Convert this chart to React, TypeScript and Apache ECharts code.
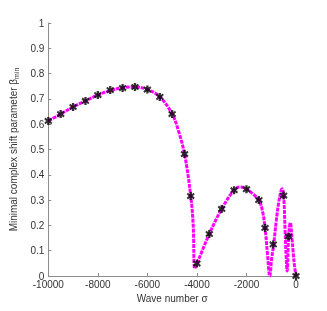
import React, { useEffect, useRef } from "react";
import * as echarts from "echarts";

// Continuous magenta curve (wave number, beta_min)
const curveX = [-10000, -9500, -9000, -8500, -8000, -7500, -7000, -6500, -6000, -5500, -5000, -4750, -4500, -4250, -4150, -4090, -4000, -3500, -3000, -2500, -2250, -2000, -1750, -1500, -1350, -1250, -1150, -1060, -980, -900, -800, -700, -600, -560, -500, -440, -400, -357, -300, -250, -226, -180, -120, -60, 0];
const curveY = [0.613, 0.64, 0.668, 0.692, 0.715, 0.733, 0.744, 0.747, 0.737, 0.708, 0.64, 0.575, 0.482, 0.316, 0.2, 0.03, 0.049, 0.166, 0.265, 0.339, 0.352, 0.343, 0.325, 0.3, 0.255, 0.19, 0.085, 0.0, 0.07, 0.125, 0.215, 0.29, 0.338, 0.345, 0.32, 0.18, 0.08, 0.02, 0.156, 0.205, 0.21, 0.17, 0.1, 0.04, 0.0];

// Sampled points (black markers)
const markX = [-10000, -9500, -9000, -8500, -8000, -7500, -7000, -6500, -6000, -5500, -5000, -4500, -4250, -4000, -3500, -3000, -2500, -2000, -1500, -1250, -920, -500, -300, 0];
const markY = [0.613, 0.64, 0.668, 0.692, 0.715, 0.735, 0.743, 0.747, 0.737, 0.708, 0.64, 0.482, 0.316, 0.049, 0.166, 0.265, 0.339, 0.343, 0.3, 0.19, 0.125, 0.318, 0.156, 0.0];

const yTicks = [0, 0.1, 0.2, 0.3, 0.4, 0.5, 0.6, 0.7, 0.8, 0.9, 1];

const asterisk =
  "path://M3.6,0 L6.4,0 L6.4,2.6 L8.4,0.8 L9.8,2.8 L7.6,5 L9.8,7.2 L8.4,9.2 L6.4,7.4 L6.4,10 L3.6,10 L3.6,7.4 L1.6,9.2 L0.2,7.2 L2.4,5 L0.2,2.8 L1.6,0.8 L3.6,2.6 Z";

export default function App() {
  const ref = useRef<HTMLDivElement>(null);
  useEffect(() => {
    if (!ref.current) return;
    const chart = echarts.init(ref.current, null, { renderer: "svg" });
    const font = "Liberation Sans, Arial, sans-serif";
    const txt = "#333333";
    const axisCol = "#8c8c8c";
    chart.setOption({
      animation: false,
      grid: { left: 42, right: 31, top: 23, bottom: 35 },
      xAxis: {
        type: "value",
        min: -10000,
        max: 0,
        interval: 2000,
        name: "Wave number σ",
        nameLocation: "middle",
        nameGap: 17,
        nameTextStyle: { fontFamily: font, fontSize: 10, color: txt },
        axisLine: { onZero: false, lineStyle: { color: axisCol } },
        axisTick: { inside: true, length: 3, lineStyle: { color: axisCol } },
        axisLabel: {
          fontFamily: font,
          fontSize: 10,
          color: txt,
          margin: 3,
          formatter: (v: number) => String(Math.round(v)),
        },
        splitLine: { show: false },
      },
      yAxis: {
        type: "value",
        min: 0,
        max: 1,
        interval: 0.1,
        name: "Minimal complex shift parameter β{sub|min}",
        nameLocation: "middle",
        nameGap: 24,
        nameTextStyle: {
          fontFamily: font,
          fontSize: 10,
          color: txt,
          rich: { sub: { fontFamily: font, fontSize: 7, color: txt, verticalAlign: "bottom", padding: [6, 0, 0, 0] } },
        },
        axisLine: { show: true, onZero: false, lineStyle: { color: axisCol } },
        axisTick: { show: true, inside: true, length: 3, lineStyle: { color: axisCol } },
        axisLabel: {
          fontFamily: font,
          fontSize: 10,
          color: txt,
          margin: 4,
          formatter: (v: number) => {
            const t = yTicks.find((k) => Math.abs(k - v) < 1e-6);
            return t === undefined ? "" : String(+t.toFixed(1));
          },
        },
        splitLine: { show: false },
      },
      series: [
        {
          type: "line",
          data: curveX.map((x, i) => [x, curveY[i]]),
          smooth: 0.4,
          showSymbol: false,
          lineStyle: { color: "#ff00ff", width: 3, type: [4, 1] },
          z: 2,
        },
        {
          type: "scatter",
          data: markX.map((x, i) => [x, markY[i]]),
          symbol: asterisk,
          symbolSize: 8,
          itemStyle: { color: "#000000" },
          z: 3,
        },
      ],
    });
    return () => chart.dispose();
  }, []);
  return (
    <div
      ref={ref}
      style={{ position: "fixed", left: 0, top: 0, width: 327, height: 311 }}
    />
  );
}
